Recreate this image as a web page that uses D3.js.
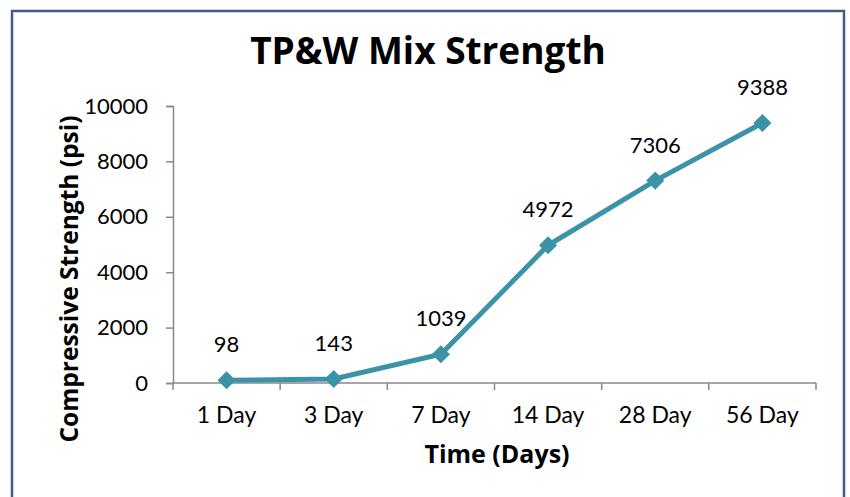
<!DOCTYPE html>
<html>
<head>
<meta charset="utf-8">
<script src="https://cdn.jsdelivr.net/npm/d3@7"></script>
<style>
  body { margin: 0; background: #fff; }
  text { font-family: Lato, "Open Sans", sans-serif; fill: #000; }
  .bold { font-family: "Open Sans", Lato, sans-serif; font-weight: bold; }
</style>
</head>
<body>
<div id="wrapper"></div>
<script>
// data
const days = ['1 Day', '3 Day', '7 Day', '14 Day', '28 Day', '56 Day'];
const strength = [98, 143, 1039, 4972, 7306, 9388];
const yTicks = [0, 2000, 4000, 6000, 8000, 10000];

const data = days.map((d, i) => ({ day: d, value: strength[i] }));

const width = 850;
const height = 497;
const margin = { top: 106, right: 34, bottom: 114, left: 173 };
const boundedWidth = width - margin.left - margin.right;
const boundedHeight = height - margin.top - margin.bottom;

const svg = d3.select('#wrapper').append('svg')
    .attr('width', width)
    .attr('height', height);

// frame
svg.append('rect')
    .attr('x', 12).attr('y', 11)
    .attr('width', 832).attr('height', 500)
    .attr('fill', 'none')
    .attr('stroke', '#4a5a86')
    .attr('stroke-width', 2.5);

const bounds = svg.append('g')
    .attr('transform', `translate(${margin.left}, ${margin.top})`);

const xScale = d3.scaleBand()
    .domain(days)
    .range([0, boundedWidth]);

const yScale = d3.scaleLinear()
    .domain([0, 10000])
    .range([boundedHeight, 0]);

const xAccessor = d => xScale(d.day) + xScale.bandwidth() / 2;
const yAccessor = d => yScale(d.value);

// y axis
const yAxis = bounds.append('g')
    .call(d3.axisLeft(yScale).tickValues(yTicks).tickSize(7).tickPadding(18).tickFormat(d3.format('d')));
yAxis.select('.domain').attr('stroke', '#888').attr('stroke-width', 1.5);
yAxis.selectAll('.tick line').attr('stroke', '#888').attr('stroke-width', 1.5);
yAxis.selectAll('.tick text')
    .attr('font-size', 22)
    .style('font-family', 'Lato, "Open Sans", sans-serif')
    .attr('fill', '#000');

// x axis, ticks between categories
const xAxis = bounds.append('g')
    .attr('transform', `translate(0, ${boundedHeight})`);
xAxis.append('line')
    .attr('x1', 0).attr('x2', boundedWidth)
    .attr('stroke', '#888').attr('stroke-width', 1.5);
xAxis.selectAll('.xtick')
    .data(d3.range(days.length + 1))
    .join('line')
    .attr('class', 'xtick')
    .attr('x1', i => i * xScale.step())
    .attr('x2', i => i * xScale.step())
    .attr('y1', 0).attr('y2', 7)
    .attr('stroke', '#888').attr('stroke-width', 1.5);
xAxis.selectAll('.xlabel')
    .data(days)
    .join('text')
    .attr('class', 'xlabel')
    .attr('x', d => xScale(d) + xScale.bandwidth() / 2)
    .attr('y', 40)
    .attr('text-anchor', 'middle')
    .attr('font-size', 23)
    .text(d => d);

// line
const lineGenerator = d3.line()
    .x(xAccessor)
    .y(yAccessor);

bounds.append('path')
    .attr('d', lineGenerator(data))
    .attr('fill', 'none')
    .attr('stroke', '#3c93a8')
    .attr('stroke-width', 5);

// markers
bounds.selectAll('.marker')
    .data(data)
    .join('path')
    .attr('class', 'marker')
    .attr('d', d3.symbol().type(d3.symbolDiamond2).size(210)())
    .attr('transform', d => `translate(${xAccessor(d)}, ${yAccessor(d)})`)
    .attr('fill', '#3c93a8');

// value labels
bounds.selectAll('.vlabel')
    .data(data)
    .join('text')
    .attr('class', 'vlabel')
    .attr('x', xAccessor)
    .attr('y', d => yAccessor(d) - 28)
    .attr('text-anchor', 'middle')
    .attr('font-size', 22)
    .text(d => d.value);

// title
svg.append('text')
    .attr('class', 'bold')
    .attr('x', 428)
    .attr('y', 64)
    .attr('text-anchor', 'middle')
    .attr('font-size', 37)
    .text('TP&W Mix Strength');

// axis titles
svg.append('text')
    .attr('class', 'bold')
    .attr('x', 497)
    .attr('y', 463)
    .attr('text-anchor', 'middle')
    .attr('font-size', 25)
    .text('Time (Days)');

svg.append('text')
    .attr('class', 'bold')
    .attr('transform', 'translate(78, 279) rotate(-90)')
    .attr('text-anchor', 'middle')
    .attr('font-size', 24.5)
    .text('Compressive Strength (psi)');
</script>
</body>
</html>
